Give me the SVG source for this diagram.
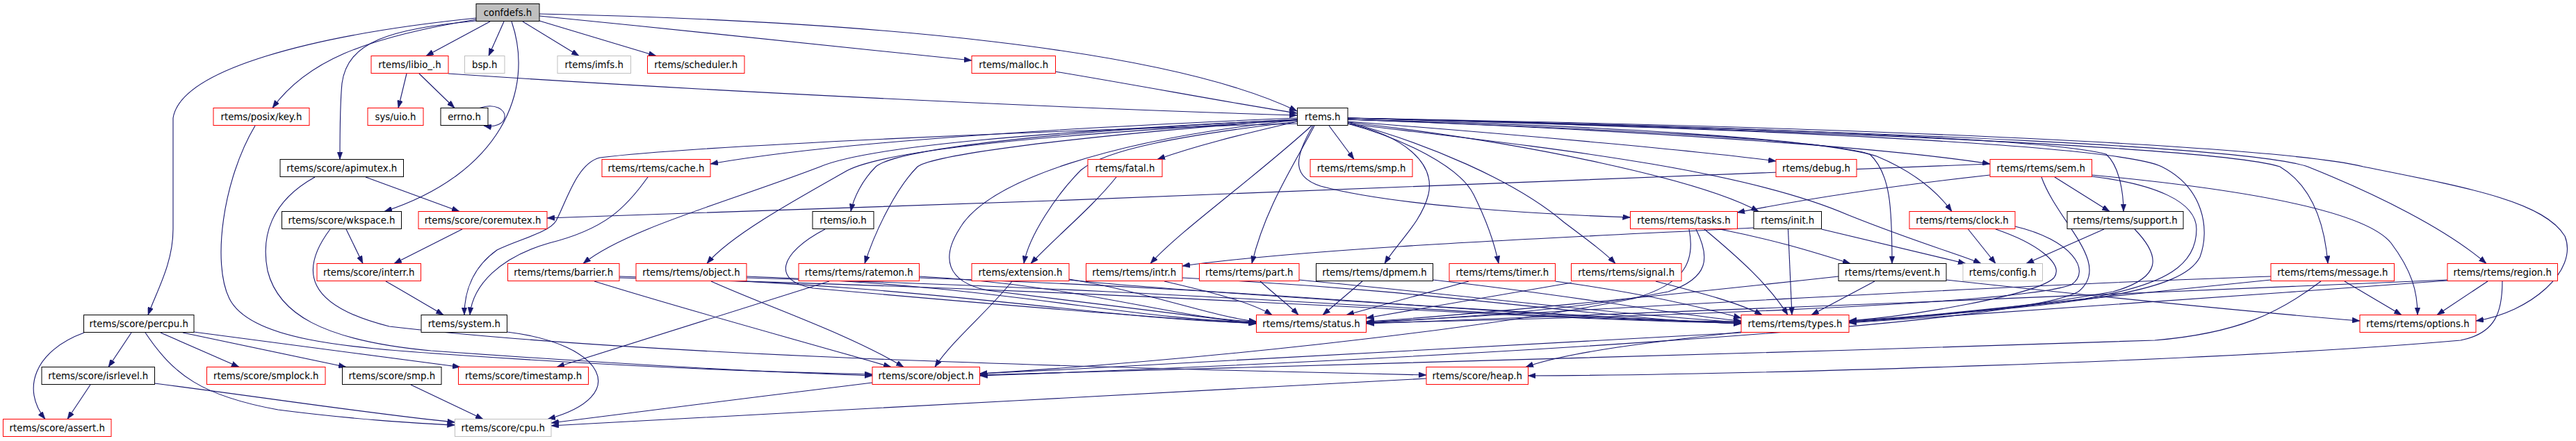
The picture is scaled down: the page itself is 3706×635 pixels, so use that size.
<svg xmlns="http://www.w3.org/2000/svg" width="3706" height="635" viewBox="0 0 3706 635">
<defs>
<style>
.n rect{fill:#fff;stroke-width:1}
.n rect.red{stroke:#ff0000}
.n rect.blk{stroke:#000}
.n rect.gry{stroke:#bfbfbf}
.n rect.root{fill:#bfbfbf;stroke:#000}
.n text{font-family:"DejaVu Sans","Liberation Sans",sans-serif;font-size:13.33px;text-anchor:middle;fill:#000}
.e path{fill:none;stroke:#191970;stroke-width:1.1;marker-end:url(#ah)}
</style>
<marker id="ah" viewBox="0 0 11 8" refX="11" refY="4" markerWidth="11" markerHeight="8" markerUnits="userSpaceOnUse" orient="auto"><path d="M0,0 L11,4 L0,8 Z" fill="#191970" stroke="#191970" stroke-width="0.5"/></marker>
</defs>
<rect x="0" y="0" width="3706" height="635" fill="#fff"/>
<g id="edges" class="e">
<path d="M705,31 L613,80.5"/>
<path d="M725,31 L703,80.5"/>
<path d="M752,31 L833,80.5"/>
<path d="M776,30 L944,80.5"/>
<path d="M776,23 C1000,45 1250,72 1398,87"/>
<path d="M776,20 C1250,30 1680,70 1866,160"/>
<path d="M685,28 C520,55 440,90 392,155.5"/>
<path d="M685,30 C560,42 500,60 492,120 C489,150 489,190 489,229.5"/>
<path d="M736,31 C770,130 720,250 553,304.5"/>
<path d="M685,26 C450,50 260,100 249,170 L249,330 C249,380 225,420 213,453.5"/>
<path d="M585,106 L573,155.5"/>
<path d="M603,106 L654,155.5"/>
<path d="M645,106 C1000,130 1500,155 1866,166"/>
<path d="M1518,103 C1650,125 1780,150 1866,163"/>
<path d="M690,155.5 C712,148 728,158 726,169 C725,178 712,184 696,181"/>
<path d="M367,181 C320,260 305,380 330,430 C360,490 500,500 640,510 C900,528 1100,536 1255,539"/>
<path d="M453,255 C390,290 375,340 385,390 C400,450 460,490 620,505 C900,525 1100,536 1255,541"/>
<path d="M526,255 L661,304.5"/>
<path d="M498,330 L522,379.5"/>
<path d="M475,330 C430,390 440,440 560,470 C900,510 1500,528 2052,540"/>
<path d="M665,330 L567,379.5"/>
<path d="M555,405 C590,425 615,440 638,453.5"/>
<path d="M1866,178 C1500,188 1000,210 863,227 C830,235 815,290 800,318 C790,335 745,345 715,360 C680,385 668,420 668,453.5"/>
<path d="M932,255 C900,300 870,330 790,350 C720,370 680,410 676,453.5"/>
<path d="M729.5,478 C870,495 910,570 788,603.5"/>
<path d="M121,479 C50,505 30,560 65,603.5"/>
<path d="M189,479 L156,528.5"/>
<path d="M209,479 C250,540 290,570 400,590 C500,603 600,610 654.5,612"/>
<path d="M231,479 L344,528.5"/>
<path d="M263,479 L498,528.5"/>
<path d="M279,478 L662,528.5"/>
<path d="M130,554 L97,603.5"/>
<path d="M222.5,552 C400,575 550,598 654.5,608"/>
<path d="M591,554 L695,603.5"/>
<path d="M1255,551 C1100,570 900,595 793,609"/>
<path d="M2052,545 C1700,565 1100,595 793,613"/>
<path d="M1193,405 L801,528.5"/>
<path d="M1891,181 C1860,240 1820,300 1801,379.5"/>
<path d="M1887,181 C1800,260 1700,330 1655,379.5"/>
<path d="M1866,175 C1780,195 1720,210 1665,229.5"/>
<path d="M1866,170 C1500,185 1200,205 1022,236"/>
<path d="M1866,172 C1500,190 1250,210 1180,240 C1050,290 900,330 839,379.5"/>
<path d="M1866,173 C1500,195 1280,215 1220,245 C1140,290 1050,340 1017,379.5"/>
<path d="M1866,172 C1500,190 1290,215 1260,240 C1240,260 1228,285 1224,304.5"/>
<path d="M1866,172 C1500,200 1340,225 1320,240 C1290,270 1260,330 1244,379.5"/>
<path d="M1866,173 C1600,200 1420,260 1380,330 C1355,370 1360,405 1420,418 C1600,440 1740,458 1807.5,466"/>
<path d="M1866,175 C1700,195 1590,215 1555,245 C1520,280 1480,340 1473,379.5"/>
<path d="M1606,255 C1570,300 1520,340 1483,379.5"/>
<path d="M1912,181 L1948,229.5"/>
<path d="M1889,181 C1860,230 1860,255 1900,268 C2000,295 2200,308 2345.5,313"/>
<path d="M1939,172 C2300,185 2700,210 2863,236"/>
<path d="M1939,175 C2200,195 2450,218 2555,232"/>
<path d="M1939,176 C2200,205 2450,260 2530,304.5"/>
<path d="M1939,172 C2300,180 2620,200 2700,225 C2760,250 2790,280 2808,304.5"/>
<path d="M1939,172 C2300,185 2620,200 2690,222 C2720,250 2722,300 2722,379.5"/>
<path d="M1939,170 C2500,182 2950,200 3030,222 C3050,240 3055,280 3055,304.5"/>
<path d="M1939,178 C2200,210 2500,240 2660,310 C2760,350 2830,370 2850,379.5"/>
<path d="M1939,170 C2700,190 3200,215 3280,240 C3330,270 3345,330 3349,379.5"/>
<path d="M1939,170 C2800,190 3250,215 3320,240 C3420,280 3520,330 3577,379.5"/>
<path d="M1939,170 C2800,185 3300,215 3400,240 C3550,270 3660,290 3690,340 C3710,390 3640,450 3562,462"/>
<path d="M1939,170 C2700,190 3060,215 3110,240 C3170,270 3180,330 3165,370 C3140,420 3000,440 2660,462"/>
<path d="M1939,178 C2020,195 2065,235 2055,280 C2045,320 2010,350 1992,379.5"/>
<path d="M1939,178 C2020,200 2100,240 2120,280 C2140,320 2150,350 2156,379.5"/>
<path d="M1939,176 C2050,205 2180,260 2250,320 C2290,350 2310,365 2324,379.5"/>
<path d="M2863,236 C2500,255 1500,290 787,314"/>
<path d="M2863,252 C2700,270 2580,290 2499,306"/>
<path d="M2956,255 L3035,304.5"/>
<path d="M3009.5,252 C3200,270 3400,300 3440,350 C3470,390 3478,420 3478,453.5"/>
<path d="M3009.5,254 C3100,265 3160,290 3160,330 C3160,380 3120,410 3000,430 C2850,450 2720,460 2660,464"/>
<path d="M2937,255 C2960,320 3040,380 2990,420 C2900,470 2000,520 1409.5,541"/>
<path d="M2452,330 C2500,370 2545,410 2572,453.5"/>
<path d="M2440,330 C2460,370 2460,400 2400,420 C2250,450 2050,460 1966,464"/>
<path d="M2430,330 C2440,380 2420,410 2350,430 C2100,480 1700,520 1409.5,538"/>
<path d="M2474,330 C2550,345 2600,360 2662,379.5"/>
<path d="M2523,328 C2300,340 1900,355 1701,383"/>
<path d="M2572.5,330 L2578,453.5"/>
<path d="M2620.5,330 L2828,379.5"/>
<path d="M2831.5,330 L2871,379.5"/>
<path d="M2871,330 C2930,350 2970,380 2955,400 C2930,425 2750,455 2660,462"/>
<path d="M2899,326 C2980,345 3010,390 2980,410 C2900,440 2300,458 1966,465"/>
<path d="M3027,330 L2915,379.5"/>
<path d="M3071,330 C3110,370 3110,400 3040,420 C2900,445 2750,458 2660,463"/>
<path d="M891,398 C1350,410 1580,460 1807.5,465"/>
<path d="M891,400 C1700,420 2200,462 2505,465"/>
<path d="M1074,398 C1440,410 1620,460 1807.5,464"/>
<path d="M1074,400 C1790,420 2200,462 2505,464"/>
<path d="M1322.5,398 C1560,410 1690,460 1807.5,463"/>
<path d="M1322.5,400 C1910,420 2210,462 2505,463"/>
<path d="M1538,402 C1650,420 1740,455 1807.5,463"/>
<path d="M1538,403 C1700,420 2260,455 2505,466"/>
<path d="M1675,405 C1740,420 1800,435 1830,453.5"/>
<path d="M1701,400 C2100,420 2300,460 2505,466"/>
<path d="M1813,405 C1835,425 1855,440 1868,453.5"/>
<path d="M1869,403 C2150,430 2350,455 2505,464"/>
<path d="M1960,405 L1903,453.5"/>
<path d="M2061.5,403 C2300,430 2420,455 2505,462"/>
<path d="M2113,405 L1937,453.5"/>
<path d="M2237.5,405 C2350,420 2440,440 2505,458"/>
<path d="M2261,407 L1965.5,458"/>
<path d="M2382,405 C2440,420 2500,435 2535,453.5"/>
<path d="M2645,398 C2400,425 2100,455 1966,463"/>
<path d="M2697,405 L2606,453.5"/>
<path d="M2800,403 C3000,425 3250,450 3395,462"/>
<path d="M3267,398 C2900,410 2200,450 1966,465"/>
<path d="M3267,403 C3000,430 2780,455 2660,464"/>
<path d="M3373,405 L3455,453.5"/>
<path d="M3339,405 C3280,450 3220,480 3100,490 C2500,510 1800,530 1409.5,540"/>
<path d="M3521,403 C3200,420 2300,452 1966,466"/>
<path d="M3521,404 C3200,428 2800,455 2660,465"/>
<path d="M3579,405 L3506,453.5"/>
<path d="M3600,405 C3600,450 3590,480 3540,490 C3200,520 2500,540 2198.5,541"/>
<path d="M2505,478 C2400,490 2260,505 2195,528.5"/>
<path d="M2505,479 C2200,495 1800,520 1409.5,538"/>
<path d="M855,405 C1000,450 1150,490 1282,528.5"/>
<path d="M1023,405 C1100,440 1220,480 1300,528.5"/>
<path d="M1456,405 C1420,450 1370,490 1345,528.5"/>
<path d="M1187,330 C1120,365 1110,405 1170,415 C1450,440 1700,460 1807.5,466"/>
</g>
<g id="n_confdefs" class="n"><rect class="root" x="685" y="5.5" width="91" height="25"/><text x="730.5" y="22.5">confdefs.h</text></g>
<g id="n_libio" class="n"><rect class="red" x="534" y="80.5" width="111" height="25"/><text x="589.5" y="97.5">rtems/libio_.h</text></g>
<g id="n_bsp" class="n"><rect class="gry" x="668.5" y="80.5" width="57.5" height="25"/><text x="697.25" y="97.5">bsp.h</text></g>
<g id="n_imfs" class="n"><rect class="gry" x="802" y="80.5" width="105.5" height="25"/><text x="854.75" y="97.5">rtems/imfs.h</text></g>
<g id="n_scheduler" class="n"><rect class="red" x="931.5" y="80.5" width="139.5" height="25"/><text x="1001.25" y="97.5">rtems/scheduler.h</text></g>
<g id="n_malloc" class="n"><rect class="red" x="1398" y="80.5" width="120.5" height="25"/><text x="1458.25" y="97.5">rtems/malloc.h</text></g>
<g id="n_key" class="n"><rect class="red" x="307" y="155.5" width="138" height="25"/><text x="376" y="172.5">rtems/posix/key.h</text></g>
<g id="n_uio" class="n"><rect class="red" x="529" y="155.5" width="80" height="25"/><text x="569" y="172.5">sys/uio.h</text></g>
<g id="n_errno" class="n"><rect class="blk" x="634" y="155.5" width="68" height="25"/><text x="668" y="172.5">errno.h</text></g>
<g id="n_rtems" class="n"><rect class="blk" x="1866.5" y="155.5" width="72.5" height="25"/><text x="1902.75" y="172.5">rtems.h</text></g>
<g id="n_apimutex" class="n"><rect class="blk" x="403" y="229.5" width="177.5" height="25"/><text x="491.75" y="246.5">rtems/score/apimutex.h</text></g>
<g id="n_cache" class="n"><rect class="red" x="866" y="229.5" width="156" height="25"/><text x="944" y="246.5">rtems/rtems/cache.h</text></g>
<g id="n_fatal" class="n"><rect class="red" x="1565" y="229.5" width="107" height="25"/><text x="1618.5" y="246.5">rtems/fatal.h</text></g>
<g id="n_rsmp" class="n"><rect class="red" x="1885" y="229.5" width="147" height="25"/><text x="1958.5" y="246.5">rtems/rtems/smp.h</text></g>
<g id="n_debug" class="n"><rect class="red" x="2555" y="229.5" width="116" height="25"/><text x="2613" y="246.5">rtems/debug.h</text></g>
<g id="n_sem" class="n"><rect class="red" x="2863" y="229.5" width="146.5" height="25"/><text x="2936.25" y="246.5">rtems/rtems/sem.h</text></g>
<g id="n_wkspace" class="n"><rect class="blk" x="405.5" y="304.5" width="172" height="25"/><text x="491.5" y="321.5">rtems/score/wkspace.h</text></g>
<g id="n_coremutex" class="n"><rect class="red" x="602" y="304.5" width="185" height="25"/><text x="694.5" y="321.5">rtems/score/coremutex.h</text></g>
<g id="n_io" class="n"><rect class="blk" x="1169" y="304.5" width="88" height="25"/><text x="1213" y="321.5">rtems/io.h</text></g>
<g id="n_tasks" class="n"><rect class="red" x="2345.5" y="304.5" width="154" height="25"/><text x="2422.5" y="321.5">rtems/rtems/tasks.h</text></g>
<g id="n_init" class="n"><rect class="blk" x="2523" y="304.5" width="97.5" height="25"/><text x="2571.75" y="321.5">rtems/init.h</text></g>
<g id="n_clock" class="n"><rect class="red" x="2747" y="304.5" width="152" height="25"/><text x="2823" y="321.5">rtems/rtems/clock.h</text></g>
<g id="n_support" class="n"><rect class="blk" x="2974" y="304.5" width="167" height="25"/><text x="3057.5" y="321.5">rtems/rtems/support.h</text></g>
<g id="n_interr" class="n"><rect class="red" x="456" y="379.5" width="149.5" height="25"/><text x="530.75" y="396.5">rtems/score/interr.h</text></g>
<g id="n_barrier" class="n"><rect class="red" x="730.5" y="379.5" width="160.5" height="25"/><text x="810.75" y="396.5">rtems/rtems/barrier.h</text></g>
<g id="n_robject" class="n"><rect class="red" x="915" y="379.5" width="159" height="25"/><text x="994.5" y="396.5">rtems/rtems/object.h</text></g>
<g id="n_ratemon" class="n"><rect class="red" x="1149" y="379.5" width="173.5" height="25"/><text x="1235.75" y="396.5">rtems/rtems/ratemon.h</text></g>
<g id="n_extension" class="n"><rect class="red" x="1398" y="379.5" width="140" height="25"/><text x="1468" y="396.5">rtems/extension.h</text></g>
<g id="n_intr" class="n"><rect class="red" x="1562.5" y="379.5" width="138.5" height="25"/><text x="1631.75" y="396.5">rtems/rtems/intr.h</text></g>
<g id="n_part" class="n"><rect class="red" x="1725.5" y="379.5" width="143.5" height="25"/><text x="1797.25" y="396.5">rtems/rtems/part.h</text></g>
<g id="n_dpmem" class="n"><rect class="blk" x="1893.5" y="379.5" width="168" height="25"/><text x="1977.5" y="396.5">rtems/rtems/dpmem.h</text></g>
<g id="n_timer" class="n"><rect class="red" x="2085" y="379.5" width="152.5" height="25"/><text x="2161.25" y="396.5">rtems/rtems/timer.h</text></g>
<g id="n_signal" class="n"><rect class="red" x="2260.5" y="379.5" width="158.5" height="25"/><text x="2339.75" y="396.5">rtems/rtems/signal.h</text></g>
<g id="n_event" class="n"><rect class="blk" x="2645" y="379.5" width="155" height="25"/><text x="2722.5" y="396.5">rtems/rtems/event.h</text></g>
<g id="n_config" class="n"><rect class="gry" x="2824" y="379.5" width="114.5" height="25"/><text x="2881.25" y="396.5">rtems/config.h</text></g>
<g id="n_message" class="n"><rect class="red" x="3267" y="379.5" width="177.5" height="25"/><text x="3355.75" y="396.5">rtems/rtems/message.h</text></g>
<g id="n_region" class="n"><rect class="red" x="3521" y="379.5" width="158.5" height="25"/><text x="3600.25" y="396.5">rtems/rtems/region.h</text></g>
<g id="n_percpu" class="n"><rect class="blk" x="120.5" y="453.5" width="158.5" height="25"/><text x="199.75" y="470.5">rtems/score/percpu.h</text></g>
<g id="n_system" class="n"><rect class="blk" x="606" y="453.5" width="123.5" height="25"/><text x="667.75" y="470.5">rtems/system.h</text></g>
<g id="n_status" class="n"><rect class="red" x="1807.5" y="453.5" width="158" height="25"/><text x="1886.5" y="470.5">rtems/rtems/status.h</text></g>
<g id="n_types" class="n"><rect class="red" x="2505" y="453.5" width="155" height="25"/><text x="2582.5" y="470.5">rtems/rtems/types.h</text></g>
<g id="n_options" class="n"><rect class="red" x="3395" y="453.5" width="167" height="25"/><text x="3478.5" y="470.5">rtems/rtems/options.h</text></g>
<g id="n_isrlevel" class="n"><rect class="blk" x="60" y="528.5" width="162.5" height="25"/><text x="141.25" y="545.5">rtems/score/isrlevel.h</text></g>
<g id="n_smplock" class="n"><rect class="red" x="297.5" y="528.5" width="170.5" height="25"/><text x="382.75" y="545.5">rtems/score/smplock.h</text></g>
<g id="n_ssmp" class="n"><rect class="blk" x="492.5" y="528.5" width="142.5" height="25"/><text x="563.75" y="545.5">rtems/score/smp.h</text></g>
<g id="n_timestamp" class="n"><rect class="red" x="659.5" y="528.5" width="187" height="25"/><text x="753" y="545.5">rtems/score/timestamp.h</text></g>
<g id="n_sobject" class="n"><rect class="red" x="1255" y="528.5" width="154.5" height="25"/><text x="1332.25" y="545.5">rtems/score/object.h</text></g>
<g id="n_heap" class="n"><rect class="red" x="2052" y="528.5" width="146.5" height="25"/><text x="2125.25" y="545.5">rtems/score/heap.h</text></g>
<g id="n_assert" class="n"><rect class="red" x="4.5" y="603.5" width="155.5" height="25"/><text x="82.25" y="620.5">rtems/score/assert.h</text></g>
<g id="n_cpu" class="n"><rect class="gry" x="654.5" y="603.5" width="138.5" height="25"/><text x="723.75" y="620.5">rtems/score/cpu.h</text></g>
</svg>
